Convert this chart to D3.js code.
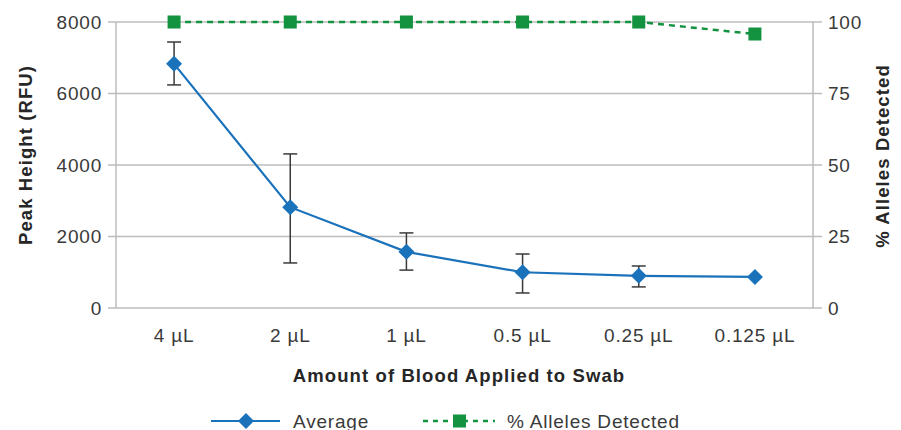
<!DOCTYPE html>
<html><head><meta charset="utf-8">
<script src="https://cdnjs.cloudflare.com/ajax/libs/d3/7.8.5/d3.min.js"></script>
<style>body{margin:0;background:#fff}svg{display:block}text{font-family:"Liberation Sans",Arial,sans-serif}</style>
</head><body><svg id="c" width="901" height="430"></svg>
<script>
const categories = ["4 µL","2 µL","1 µL","0.5 µL","0.25 µL","0.125 µL"];
const average = [6830, 2820, 1570, 1000, 900, 870];
const errLow = [6240, 1260, 1060, 420, 590, null];
const errHigh = [7440, 4310, 2100, 1510, 1175, null];
const allelesPct = [100, 100, 100, 100, 100, 95.8];
const leftTicks = [0, 2000, 4000, 6000, 8000];
const rightTicks = [0, 25, 50, 75, 100];

const FONT = "'Liberation Sans', Arial, sans-serif";
const TICKSIZE = 19, TICKC = "#3a3a3a", TICKLS = 0.8;
const svg = d3.select("#c");
const L = 116, R = 813, T = 22, B = 308;
const x = d3.scaleBand().domain(categories).range([L, R]);
const yL = d3.scaleLinear().domain([0, 8000]).range([B, T]);
const yR = d3.scaleLinear().domain([0, 100]).range([B, T]);
const cx = d => x(d) + x.bandwidth()/2;

svg.append("g").selectAll("line").data(leftTicks).join("line")
  .attr("x1", L-8).attr("x2", R+9).attr("y1", d=>yL(d)).attr("y2", d=>yL(d))
  .attr("stroke", "#bdbdbd").attr("stroke-width", 1.5);
[L, R].forEach(xx => svg.append("line").attr("x1", xx).attr("x2", xx).attr("y1", T).attr("y2", B)
  .attr("stroke", "#bdbdbd").attr("stroke-width", 1.5));

function styleTicks(g){
  g.select(".domain").remove();
  g.selectAll("text").attr("font-size", TICKSIZE).attr("fill", TICKC).attr("font-family", FONT).attr("letter-spacing", TICKLS);
}
const gl = svg.append("g").attr("transform", `translate(${L},0)`)
  .call(d3.axisLeft(yL).tickValues(leftTicks).tickSize(0).tickPadding(14).tickFormat(d3.format("d")));
styleTicks(gl);
const gr = svg.append("g").attr("transform", `translate(${R},0)`)
  .call(d3.axisRight(yR).tickValues(rightTicks).tickSize(0).tickPadding(15));
styleTicks(gr);
const gb = svg.append("g").attr("transform", `translate(0,${B})`)
  .call(d3.axisBottom(x).tickSize(0).tickPadding(21));
styleTicks(gb);

function title(sel){ return sel.attr("text-anchor","middle").attr("font-size", 18.5).attr("font-weight", "bold").attr("fill", "#262626").attr("font-family", FONT).attr("letter-spacing", 1.1); }
title(svg.append("text").attr("x", 459).attr("y", 382)).text("Amount of Blood Applied to Swab");
title(svg.append("text").attr("transform", `translate(32,155) rotate(-90)`)).text("Peak Height (RFU)");
title(svg.append("text").attr("transform", `translate(889,156) rotate(-90)`)).text("% Alleles Detected");

const blue = "#1a72bb", green = "#13923f";
svg.append("path").datum(allelesPct).attr("fill", "none").attr("stroke", green).attr("stroke-width", 2.5)
  .attr("stroke-dasharray", "6,5")
  .attr("d", d3.line().x((d,i)=>cx(categories[i])).y(d=>yR(d)));
svg.append("g").selectAll("rect").data(allelesPct).join("rect")
  .attr("x", (d,i)=>cx(categories[i])-6.5).attr("y", d=>yR(d)-6.5).attr("width", 13).attr("height", 13).attr("fill", green);

const eb = svg.append("g").attr("stroke", "#3a3a3a").attr("stroke-width", 1.5);
categories.forEach((c,i) => {
  if (errLow[i] == null) return;
  const xx = cx(c);
  eb.append("line").attr("x1", xx).attr("x2", xx).attr("y1", yL(errLow[i])).attr("y2", yL(errHigh[i]));
  [errLow[i], errHigh[i]].forEach(v => eb.append("line").attr("x1", xx-7).attr("x2", xx+7).attr("y1", yL(v)).attr("y2", yL(v)));
});

svg.append("path").datum(average).attr("fill", "none").attr("stroke", blue).attr("stroke-width", 2.2)
  .attr("d", d3.line().x((d,i)=>cx(categories[i])).y(d=>yL(d)));
const diamond = (x0, y0, r) => `M${x0},${y0-r}L${x0+r},${y0}L${x0},${y0+r}L${x0-r},${y0}Z`;
svg.append("g").selectAll("path").data(average).join("path")
  .attr("d", (d,i)=>diamond(cx(categories[i]), yL(d), 8)).attr("fill", blue);

const ly = 421;
svg.append("line").attr("x1", 211).attr("x2", 280).attr("y1", ly).attr("y2", ly).attr("stroke", blue).attr("stroke-width", 2.2);
svg.append("path").attr("d", diamond(246, ly, 8)).attr("fill", blue);
svg.append("text").attr("x", 293).attr("y", ly+7).attr("font-size", TICKSIZE).attr("font-family", FONT).attr("letter-spacing", TICKLS).attr("fill", TICKC).text("Average");
svg.append("line").attr("x1", 423).attr("x2", 495).attr("y1", ly).attr("y2", ly).attr("stroke", green).attr("stroke-width", 2.5).attr("stroke-dasharray", "5,5");
svg.append("rect").attr("x", 453).attr("y", ly-6.5).attr("width", 13).attr("height", 13).attr("fill", green);
svg.append("text").attr("x", 507).attr("y", ly+7).attr("font-size", TICKSIZE).attr("font-family", FONT).attr("letter-spacing", TICKLS).attr("fill", TICKC).text("% Alleles Detected");
</script></body></html>
